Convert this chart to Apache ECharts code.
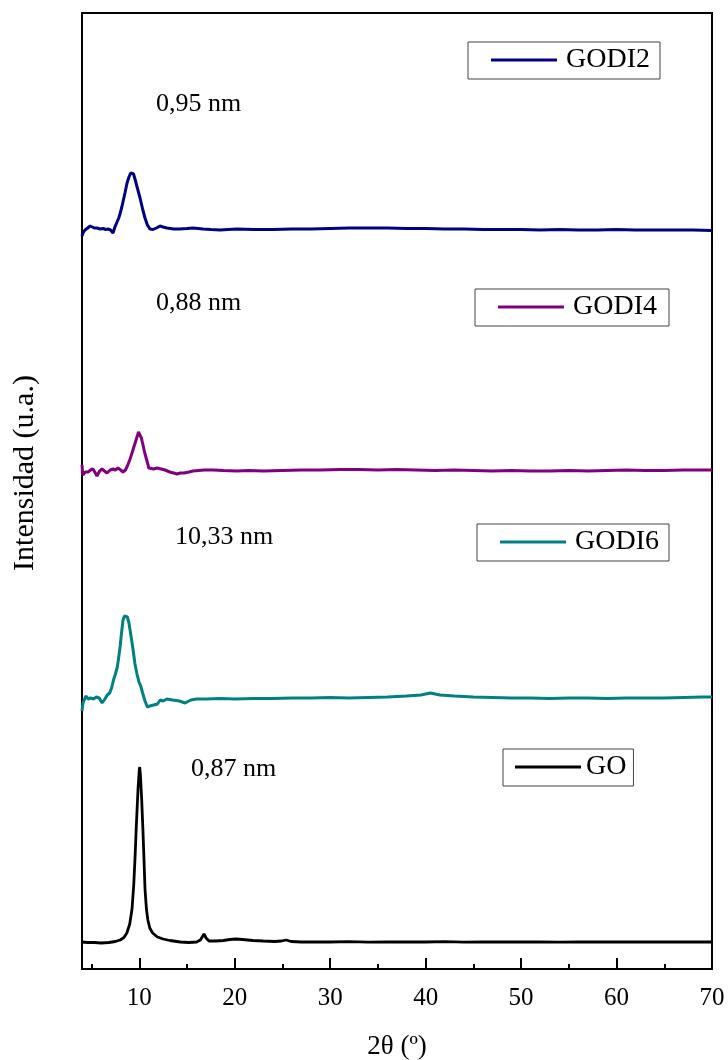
<!DOCTYPE html>
<html>
<head>
<meta charset="utf-8">
<title>DRX</title>
<script src="https://cdn.jsdelivr.net/npm/echarts@6/dist/echarts.min.js"></script>
<style>
  html, body { margin: 0; padding: 0; background: #fff; }
  #chart { width: 728px; height: 1060px; }
</style>
</head>
<body>
<div id="chart"></div>
<script>
// Diffractograms, stacked with vertical offsets: [2θ (°), intensity (a.u.)]
const seriesNames = ['GODI2', 'GODI4', 'GODI6', 'GO'];
const seriesColors = ['#000080', '#800080', '#008080', '#000000'];

const godi2 = [[4.0,733],[4.1,736],[4.31,739],[4.6,741],[4.85,743],[5.05,742],[5.3,741],[5.57,741],[5.9,740],[6.2,740.5],[6.5,739.5],[6.72,740],[7.0,739],[7.25,736],[7.45,742],[7.67,747],[7.85,751],[7.98,755],[8.2,763],[8.5,776],[8.72,786],[8.92,792],[9.1,796],[9.24,797],[9.4,795],[9.55,790],[9.8,781],[10.08,771],[10.35,760],[10.6,751],[10.85,744],[11.12,740],[11.44,739.5],[11.8,741],[12.17,743],[12.5,742],[12.91,741],[13.6,740],[14.27,740],[15.0,740.5],[15.63,741],[16.68,740],[17.5,739.5],[18.46,739],[19.3,739.5],[20.24,740],[22,739.5],[24,739.5],[26,740],[28,740],[30,740.5],[32,741],[34,741],[36,741],[38,740.5],[40,740.5],[42,740],[44,740],[46,739.5],[48,739.5],[50,739.5],[52,739],[54,739.5],[56,739],[58,739],[60,739.5],[62,739],[64,739],[66,739],[68,739],[70,738.5]];

const godi4 = [[4.0,504],[4.08,494],[4.35,497],[4.63,497],[4.9,499],[5.15,500],[5.4,496],[5.57,493],[5.85,498],[6.1,500],[6.35,498],[6.62,496],[6.95,499],[7.25,500],[7.5,499],[7.77,501],[8.05,499],[8.3,497],[8.55,499],[8.75,503],[9.0,509],[9.24,516],[9.5,524],[9.76,532],[9.92,537],[10.05,536],[10.22,531],[10.39,524],[10.6,515],[10.81,508],[11.0,501],[11.2,499],[11.5,500],[11.86,501],[12.3,500],[12.7,499],[13.2,497],[13.6,496],[13.95,495],[14.3,496],[14.7,496],[15.2,497],[15.63,498],[16.2,498.5],[16.8,499],[17.7,499],[18.8,498.5],[20.2,498],[21.5,498.5],[23,498],[25,498.5],[27,499],[29,499],[31,499.5],[33,499.5],[35,499],[37,499.5],[39,499],[41,498.5],[43,499],[45,498.5],[47,498],[49,498.5],[51,498],[53,498],[55,498.5],[57,498],[59,498.5],[61,499],[63,498.5],[65,498.5],[67,499],[69,499],[70,499]];

const godi6 = [[4.0,258],[4.1,266],[4.4,273],[4.65,270],[4.9,271],[5.2,270],[5.5,272],[5.8,271],[6.1,266],[6.4,270],[6.65,274],[6.9,276],[7.1,281],[7.3,289],[7.5,295],[7.7,302],[7.85,312],[8.0,323],[8.15,337],[8.3,349],[8.45,353],[8.6,354],[8.75,352],[8.92,346],[9.1,335],[9.34,320],[9.55,305],[9.76,295],[9.97,287],[10.15,283],[10.35,276],[10.6,268],[10.85,262],[11.1,263],[11.5,264],[11.9,265],[12.2,269],[12.5,268],[12.9,270],[13.5,269],[14.2,268],[14.8,266],[15.4,269],[16.0,270],[17,270],[18.5,270.5],[20,270],[22,270.5],[24,270.5],[26,271],[28,271],[30,271.5],[32,271],[34,271.5],[36,272],[38,273],[39.5,274],[40.5,276],[41.5,274],[43,273],[45,272],[47,271.5],[49,271],[51,271],[53,270.5],[55,271],[57,271],[59,270.5],[61,271],[63,271],[65,271],[67,271.5],[69,272],[70,272]];

const go = [[4.0,27],[4.6,26.5],[5.3,26.5],[6.0,26],[6.8,26.5],[7.5,27.5],[8.0,29],[8.4,31.5],[8.7,36],[9.0,45],[9.24,60],[9.42,84],[9.55,110],[9.7,145],[9.87,180],[10.0,199],[10.05,202],[10.12,194],[10.25,170],[10.38,140],[10.5,108],[10.6,80],[10.75,60],[10.9,49],[11.1,41],[11.4,36],[11.9,32],[12.5,30],[13.2,28.5],[14.3,27],[15.2,26.5],[16.0,27],[16.4,29],[16.78,35],[17.0,31],[17.3,28],[18.0,28],[18.8,28.5],[19.5,29.5],[20.1,30],[20.8,29.5],[21.9,28.5],[23.0,28],[24.2,27.5],[24.9,28],[25.4,29],[25.9,27.5],[27.0,27],[28.5,27],[30,27],[32,27.3],[34,26.8],[36,27],[38,27.2],[40,27],[42,27.3],[44,26.8],[46,27],[48,27],[50,27.2],[52,27],[54,26.8],[56,27],[58,27.2],[60,27],[62,27],[64,27.2],[66,27],[68,27],[70,27]];

const seriesData = [godi2, godi4, godi6, go];

// Interlayer spacing notes
const spacingLabels = ['0,95 nm', '0,88 nm', '10,33 nm', '0,87 nm'];

// Axis ticks
const majorTicks = [10, 20, 30, 40, 50, 60, 70];
const minorTicks = [5, 15, 25, 35, 45, 55, 65];

const FONT = '"Liberation Serif", "Times New Roman", serif';

const chart = echarts.init(document.getElementById('chart'), null, { renderer: 'canvas' });

// one framed legend per curve
const legendBoxes = [
  { left: 468, top: 42, padding: [4, 10, 5, 23], gap: 4 },
  { left: 475, top: 289, padding: [4, 12, 5, 23], gap: 4 },
  { left: 477, top: 524, padding: [4, 10, 5, 23], gap: 4 },
  { left: 503, top: 749, padding: [4, 7, 5, 12], gap: 0 }
];

const notePos = [
  { left: 156, top: 91 },
  { left: 156, top: 290 },
  { left: 175, top: 524 },
  { left: 191, top: 756 }
];

const option = {
  backgroundColor: '#ffffff',
  animation: false,
  grid: {
    left: 82, right: 16, top: 13, bottom: 91,
    outerBoundsMode: 'none',
    containLabel: false,
    show: true, borderColor: '#000', borderWidth: 2, backgroundColor: 'transparent'
  },
  xAxis: [
    {
      type: 'value', min: 4, max: 70,
      name: '2θ (º)', nameLocation: 'middle', nameGap: 64,
      nameTextStyle: { fontFamily: FONT, fontSize: 27, color: '#000' },
      axisLine: { show: true, lineStyle: { color: '#000', width: 2 } },
      axisTick: { show: true, inside: true, length: 11, customValues: majorTicks, lineStyle: { color: '#000', width: 2 } },
      axisLabel: { show: true, customValues: majorTicks, margin: 17, fontFamily: FONT, fontSize: 25, color: '#000' },
      splitLine: { show: false }
    },
    {
      type: 'value', min: 4, max: 70, position: 'bottom',
      axisLine: { show: false },
      axisTick: { show: true, inside: true, length: 5, customValues: minorTicks, lineStyle: { color: '#000', width: 2 } },
      axisLabel: { show: false },
      splitLine: { show: false }
    }
  ],
  yAxis: {
    type: 'value', min: 0, max: 956,
    axisLine: { show: false },
    axisTick: { show: false },
    axisLabel: { show: false },
    splitLine: { show: false }
  },
  legend: seriesNames.map((n, i) => ({
    data: [n],
    left: legendBoxes[i].left,
    top: legendBoxes[i].top,
    padding: legendBoxes[i].padding,
    borderColor: '#444',
    borderWidth: 1,
    icon: 'rect',
    itemWidth: 66,
    itemHeight: 3,
    selectedMode: false,
    textStyle: { fontFamily: FONT, fontSize: 28, color: '#000', lineHeight: 28, padding: [0, 0, 0, legendBoxes[i].gap] }
  })),
  series: seriesNames.map((n, i) => ({
    name: n,
    type: 'line',
    xAxisIndex: 0,
    data: seriesData[i],
    symbol: 'none',
    showSymbol: false,
    smooth: false,
    silent: true,
    lineStyle: { color: seriesColors[i], width: i === 3 ? 2.8 : 3 },
    itemStyle: { color: seriesColors[i] },
    z: 3
  })),
  graphic: spacingLabels.map((t, i) => ({
    type: 'text',
    left: notePos[i].left,
    top: notePos[i].top,
    silent: true,
    style: { text: t, fill: '#000', font: '26px ' + FONT }
  })).concat([{
    // vertical axis title
    type: 'text',
    x: 25,
    y: 473,
    rotation: Math.PI / 2,
    silent: true,
    style: {
      text: 'Intensidad (u.a.)', fill: '#000', font: '30px ' + FONT,
      align: 'center', verticalAlign: 'middle'
    }
  }])
};

chart.setOption(option);
</script>
</body>
</html>
